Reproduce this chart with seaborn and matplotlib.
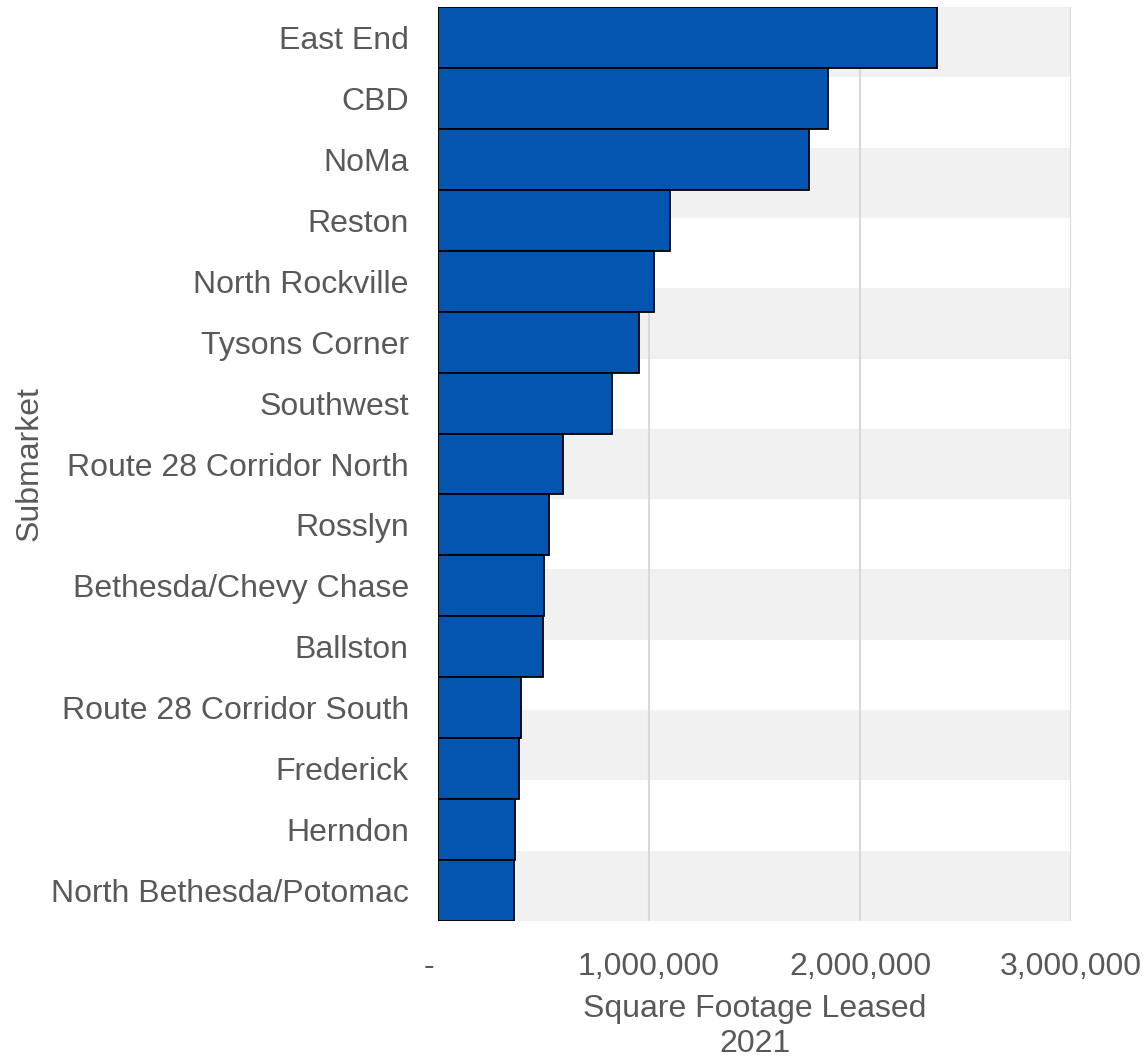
import numpy as np
import pandas as pd
import matplotlib
matplotlib.use("Agg")
import matplotlib.pyplot as plt
import seaborn as sns
from matplotlib.ticker import FuncFormatter

submarkets = ["East End", "CBD", "NoMa", "Reston", "North Rockville", "Tysons Corner",
              "Southwest", "Route 28 Corridor North", "Rosslyn", "Bethesda/Chevy Chase",
              "Ballston", "Route 28 Corridor South", "Frederick", "Herndon",
              "North Bethesda/Potomac"]
sqft_leased = [2366000, 1846000, 1759000, 1097000, 1022000, 952000, 824000, 593000,
               527000, 500000, 497000, 392000, 383000, 363000, 362000]
x_ticks = [0, 1000000, 2000000, 3000000]

df = pd.DataFrame({"Submarket": submarkets, "Square Footage Leased": sqft_leased})

sns.set_style("white")
plt.rcParams["font.family"] = ["Liberation Sans", "DejaVu Sans"]
txt = "#595959"
fs = 23

fig = plt.figure(figsize=(11.47, 10.59), dpi=100)
ax = fig.add_axes([0.3819, 0.1303, 0.9338 - 0.3819, 0.9934 - 0.1303])

sns.barplot(data=df, y="Submarket", x="Square Footage Leased", orient="h",
            color="#0455B0", saturation=1, width=1, edgecolor="black", linewidth=1.3, ax=ax)

ax.set_xlim(0, 3000000)
ax.set_ylim(len(submarkets) - 0.5, -0.5)

# alternating background stripes (13 of them over the panel)
n_bands = 13
edges = np.linspace(len(submarkets) - 0.5, -0.5, n_bands + 1)
for i in range(n_bands):
    if i % 2 == 0:
        ax.axhspan(edges[i], edges[i + 1], color="#f1f1f1", zorder=0, lw=0)

ax.set_axisbelow(True)
ax.set_xticks(x_ticks)
ax.xaxis.set_major_formatter(FuncFormatter(lambda v, p: "-  " if v == 0 else f"{v:,.0f}"))
ax.grid(axis="x", color="#d9d9d9", linewidth=1.5, zorder=0.5)
ax.grid(axis="y", visible=False)
for s in ax.spines.values():
    s.set_visible(False)

ax.tick_params(axis="y", length=0, pad=21, labelsize=fs, labelcolor=txt)
ax.tick_params(axis="x", length=0, pad=22, labelsize=fs, labelcolor=txt)
ax.set_xlabel("Square Footage Leased\n2021", fontsize=fs, color=txt, labelpad=9, linespacing=1.2)
ax.set_ylabel("Submarket", fontsize=fs, color=txt)
ax.yaxis.set_label_coords(-0.622, 0.5)

fig.savefig("out.png", dpi=100)
